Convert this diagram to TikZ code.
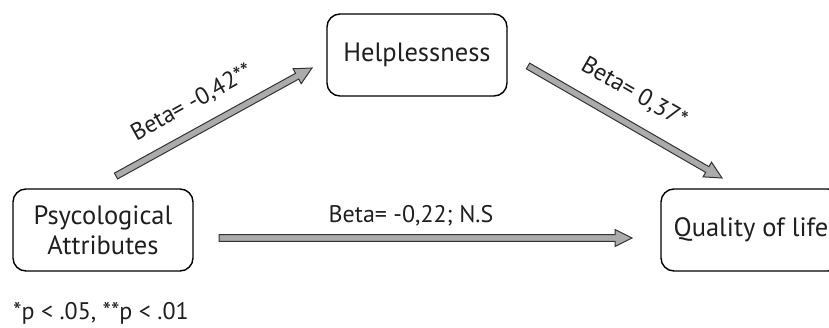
\documentclass[tikz,border=0pt]{standalone}
\usepackage{fontspec}
\setmainfont{PT Sans}
\usetikzlibrary{calc}
\newcommand\fatarrow[2]{%
  \path ($(#2)!17pt!(#1)$) coordinate (fa-c);
  \draw[fat] ($(#1)!3.3pt!90:(#2)$) -- ($(fa-c)!3.3pt!90:(#2)$) -- ($(fa-c)!8.5pt!90:(#2)$) -- (#2)
    -- ($(fa-c)!8.5pt!-90:(#2)$) -- ($(fa-c)!3.3pt!-90:(#2)$) -- ($(#1)!3.3pt!-90:(#2)$) -- cycle;}
\begin{document}
\begin{tikzpicture}[x=1pt,y=1pt,
  box/.style={draw=black, line width=1.4pt, rounded corners=13pt, minimum width=180pt, minimum height=82pt,
    align=center, inner sep=0pt, font=\fontsize{26.5}{30}\selectfont, text=black!88},
  lbl/.style={font=\fontsize{24}{28}\selectfont, text=black!88, inner sep=0pt},
  fat/.style={fill=black!33, draw=black!80, line width=1pt, line join=miter}]
\useasboundingbox (0,0) rectangle (829,327);
\node[box] (psy) at (103,97) {Psycological\\Attributes};
\node[box] (help) at (417,272) {Helplessness};
\node[box] (qol) at (751,97) {Quality of life};
\coordinate (a1s) at (116,151);
\coordinate (a1e) at (312,259);
\coordinate (a2s) at (528,261);
\coordinate (a2e) at (722,149);
\coordinate (a3s) at (219,89);
\coordinate (a3e) at (632,89);
\fatarrow{a1s}{a1e}
\fatarrow{a2s}{a2e}
\fatarrow{a3s}{a3e}
\node[lbl, rotate=29] (l1) at (192,224) {Beta= -0,42**};
\node[lbl, rotate=-30] (l2) at (634,234) {Beta= 0,37*};
\node[lbl] (l3) at (411,111) {Beta= -0,22; N.S};
\node[lbl, anchor=base west] (fn) at (13,8) {*p < .05, **p < .01};
\end{tikzpicture}
\end{document}
